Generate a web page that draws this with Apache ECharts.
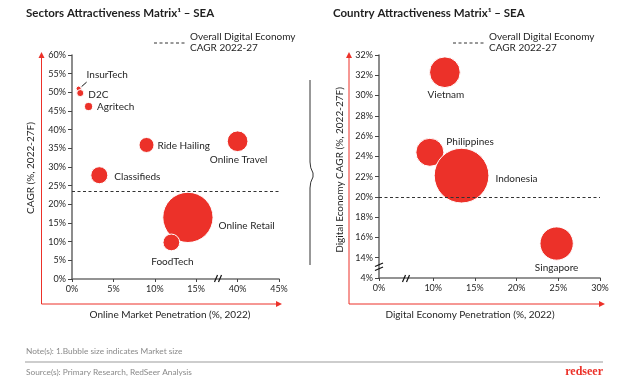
<!DOCTYPE html>
<html>
<head>
<meta charset="utf-8">
<script src="https://cdn.jsdelivr.net/npm/echarts@6/dist/echarts.min.js"></script>
<style>
html,body{margin:0;padding:0;background:#fff;}
#c{width:635px;height:384px;}
</style>
</head>
<body>
<div id="c"></div>
<script>
// ---------- Sectors chart data ----------
const sectorNames = ['InsurTech', 'D2C', 'Agritech', 'Ride Hailing', 'Online Travel', 'Classifieds', 'Online Retail', 'FoodTech'];
const sectorPenetration = [0.8, 1.0, 2.0, 9.0, 40.0, 3.3, 14.0, 12.0];          // % 2022
const sectorCagr = [51.0, 49.8, 46.2, 35.9, 36.9, 27.8, 16.5, 9.8];             // % 2022-27F
const sectorMarketSize = [1.0, 2.0, 2.6, 9.0, 17.1, 11.6, 101, 11.2];           // relative index
const sectorXTicks = [0, 5, 10, 15, 40, 45];
const sectorYTicks = [0, 5, 10, 15, 20, 25, 30, 35, 40, 45, 50, 55, 60];
const sectorOverallCagr = 23.5;

// ---------- Country chart data ----------
const countryNames = ['Vietnam', 'Philippines', 'Indonesia', 'Singapore'];
const countryPenetration = [11.4, 9.6, 13.4, 24.8];
const countryCagr = [32.3, 24.4, 22.1, 15.4];
const countryMarketSize = [31.5, 26.2, 100, 37.1];
const countryXTickLabels = ['0%', '10%', '15%', '20%', '25%', '30%'];
const countryYTickLabels = ['4%', '14%', '16%', '18%', '20%', '22%', '24%', '26%', '28%', '30%', '32%', '32%'];
const countryOverallCagr = 20;

// ---------- text ----------
const titleLeft = 'Sectors Attractiveness Matrix\u00b9 \u2013 SEA';
const titleRight = 'Country Attractiveness Matrix\u00b9 \u2013 SEA';
const legendLine1 = 'Overall Digital Economy';
const legendLine2 = 'CAGR 2022-27';
const noteText = 'Note(s): 1.Bubble size indicates Market size';
const sourceText = 'Source(s): Primary Research, RedSeer Analysis';

const RED = '#ec3129';
const FONT = 'Lato';
const TXT = '#1f1f1f';

// broken x axis of the sector chart: 15% jumps to 40%
const BREAK_GAP = 20;
const toSectorAxis = v => (v > 15 ? v - BREAK_GAP : v);
const fromSectorAxis = v => (v > 15 ? v + BREAK_GAP : v);
// broken axes of the country chart
const countryXMin = 3.5;   // displayed as 0%
const countryYMin = 12;    // displayed as 4%

const sectorLabelCfg = {
  'InsurTech':   { position: 'right', distance: 5, offset: [0, -14] },
  'D2C':         { position: 'right', distance: 4, offset: [0, 1.5] },
  'Agritech':    { position: 'right', distance: 4, offset: [0, 0] },
  'Ride Hailing':{ position: 'right', distance: 3, offset: [0, 1] },
  'Online Travel':{ position: 'bottom', distance: 3, offset: [1, 0] },
  'Classifieds': { position: 'right', distance: 6, offset: [0, 1.5] },
  'Online Retail':{ position: 'right', distance: 5, offset: [0, 8.5] },
  'FoodTech':    { position: 'bottom', distance: 6, offset: [1, 0] }
};
const countryLabelCfg = {
  'Vietnam':     { position: 'bottom', distance: 2, offset: [1, 0] },
  'Philippines': { position: 'right', distance: 2, offset: [0, -10.5] },
  'Indonesia':   { position: 'right', distance: 6, offset: [0, 3.5] },
  'Singapore':   { position: 'bottom', distance: 2, offset: [0, 0] }
};

const sectorData = sectorNames.map((n, i) => ({
  name: n,
  value: [toSectorAxis(sectorPenetration[i]), sectorCagr[i], sectorMarketSize[i]],
  label: sectorLabelCfg[n]
}));
const countryData = countryNames.map((n, i) => ({
  name: n,
  value: [countryPenetration[i], countryCagr[i], countryMarketSize[i]],
  label: countryLabelCfg[n]
}));

const axisLineStyle = { color: '#707070', width: 1.6 };
const tickStyle = { color: '#444', width: 1 };
const axisLabelStyle = { color: TXT, fontFamily: FONT, fontSize: 9 };

const chart = echarts.init(document.getElementById('c'), null, { renderer: 'canvas' });

const option = {
  animation: false,
  backgroundColor: '#fff',
  textStyle: { fontFamily: FONT },
  grid: [
    { left: 72, top: 55, width: 207, height: 224 },
    { left: 379, top: 55, width: 221, height: 223 }
  ],
  xAxis: [
    {
      gridIndex: 0, type: 'value', min: 0, max: 25, interval: 5,
      axisLine: { show: true, lineStyle: axisLineStyle },
      axisTick: { show: true, length: 3, lineStyle: tickStyle },
      splitLine: { show: false },
      axisLabel: Object.assign({ margin: 6, formatter: v => fromSectorAxis(v) + '%' }, axisLabelStyle)
    },
    {
      gridIndex: 1, type: 'value', min: countryXMin, max: 30,
      axisLine: { show: true, lineStyle: axisLineStyle },
      axisTick: { show: true, length: 3, lineStyle: tickStyle, customValues: [countryXMin, 10, 15, 20, 25, 30] },
      splitLine: { show: false },
      axisLabel: Object.assign({
        margin: 6,
        customValues: [countryXMin, 10, 15, 20, 25, 30],
        formatter: v => (v === countryXMin ? countryXTickLabels[0] : Math.round(v) + '%')
      }, axisLabelStyle)
    }
  ],
  yAxis: [
    {
      gridIndex: 0, type: 'value', min: 0, max: 60, interval: 5,
      axisLine: { show: true, lineStyle: axisLineStyle },
      axisTick: { show: true, length: 4, inside: false, lineStyle: tickStyle },
      splitLine: { show: false },
      axisLabel: Object.assign({ margin: 6, formatter: v => v + '%' }, axisLabelStyle)
    },
    {
      gridIndex: 1, type: 'value', min: countryYMin, max: 34, interval: 2,
      axisLine: { show: true, lineStyle: axisLineStyle },
      axisTick: { show: true, length: 4, lineStyle: tickStyle },
      splitLine: { show: false },
      axisLabel: Object.assign({
        margin: 6,
        formatter: v => countryYTickLabels[Math.round((v - countryYMin) / 2)]
      }, axisLabelStyle)
    }
  ],
  series: [
    {
      type: 'scatter', xAxisIndex: 0, yAxisIndex: 0,
      data: sectorData,
      symbolSize: v => 5 * Math.sqrt(v[2]),
      itemStyle: { color: RED, opacity: 1, borderColor: '#fff', borderWidth: 1 },
      label: { show: true, formatter: p => p.name, color: TXT, fontFamily: FONT, fontSize: 10 },
      emphasis: { disabled: true },
      markLine: {
        silent: true, symbol: 'none', label: { show: false },
        lineStyle: { color: '#333', type: [3, 2.5], width: 1 },
        data: [{ yAxis: sectorOverallCagr }]
      },
      z: 3
    },
    {
      type: 'scatter', xAxisIndex: 1, yAxisIndex: 1,
      data: countryData,
      symbolSize: v => 5.47 * Math.sqrt(v[2]),
      itemStyle: { color: RED, opacity: 1, borderColor: '#fff', borderWidth: 1 },
      label: { show: true, formatter: p => p.name, color: TXT, fontFamily: FONT, fontSize: 10 },
      emphasis: { disabled: true },
      markLine: {
        silent: true, symbol: 'none', label: { show: false },
        lineStyle: { color: '#333', type: [3, 2.5], width: 1 },
        data: [{ yAxis: countryOverallCagr }]
      },
      z: 3
    }
  ]
};
chart.setOption(option);

// ---------- decorations ----------
function arrowAxes(x0, yTop, yBottom, xRight) {
  return [
    { type: 'line', shape: { x1: x0, y1: yBottom, x2: x0, y2: yTop + 4 }, style: { stroke: RED, lineWidth: 1 } },
    { type: 'polygon', shape: { points: [[x0 - 3, yTop + 5], [x0 + 3, yTop + 5], [x0, yTop - 1]] }, style: { fill: RED } },
    { type: 'line', shape: { x1: x0, y1: yBottom, x2: xRight - 4, y2: yBottom }, style: { stroke: RED, lineWidth: 1 } },
    { type: 'polygon', shape: { points: [[xRight - 5, yBottom - 3], [xRight - 5, yBottom + 3], [xRight + 1, yBottom]] }, style: { fill: RED } }
  ];
}
function txt(x, y, text, opts, rot) {
  const el = {
    type: 'text', x: x, y: y,
    style: Object.assign({ text: text, fill: TXT, font: '10px ' + FONT, textAlign: 'left', textVerticalAlign: 'middle' }, opts || {})
  };
  if (rot) el.rotation = rot;
  return el;
}
function slash(x, y) {
  return [
    { type: 'line', shape: { x1: x - 3.5, y1: y + 3.5, x2: x - 0.5, y2: y - 3.5 }, style: { stroke: '#111', lineWidth: 1.2 } },
    { type: 'line', shape: { x1: x + 0.5, y1: y + 3.5, x2: x + 3.5, y2: y - 3.5 }, style: { stroke: '#111', lineWidth: 1.2 } }
  ];
}
const braceStyle = { stroke: '#333', lineWidth: 1, fill: null };

const insur = chart.convertToPixel({ seriesIndex: 0 }, sectorData[0].value);

const graphics = [].concat(
  [
    txt(26, 13, titleLeft, { font: 'bold 11.5px ' + FONT }),
    txt(333, 13, titleRight, { font: 'bold 11.5px ' + FONT }),
    // legends
    { type: 'line', shape: { x1: 154, y1: 43, x2: 186, y2: 43 }, style: { stroke: '#333', lineWidth: 1, lineDash: [3, 2.5] } },
    txt(190, 36.5, legendLine1),
    txt(190, 48, legendLine2),
    { type: 'line', shape: { x1: 453, y1: 43, x2: 485, y2: 43 }, style: { stroke: '#333', lineWidth: 1, lineDash: [3, 2.5] } },
    txt(489, 36.5, legendLine1),
    txt(489, 48, legendLine2),
    // axis titles
    txt(31, 168, 'CAGR (%, 2022-27F)', { textAlign: 'center', font: '10px ' + FONT }, Math.PI / 2),
    txt(170, 315, 'Online Market Penetration (%, 2022)', { textAlign: 'center', font: '10px ' + FONT }),
    txt(340, 170, 'Digital Economy CAGR (%, 2022-27F)', { textAlign: 'center', font: '10px ' + FONT }, Math.PI / 2),
    txt(470, 315, 'Digital Economy Penetration (%, 2022)', { textAlign: 'center', font: '10px ' + FONT }),
    // brace between charts
    { type: 'line', shape: { x1: 310, y1: 80, x2: 310, y2: 162 }, style: braceStyle },
    { type: 'bezierCurve', shape: { x1: 310, y1: 162, cpx1: 310, cpy1: 168, x2: 313, y2: 173 }, style: braceStyle },
    { type: 'line', shape: { x1: 313, y1: 173, x2: 313, y2: 177 }, style: braceStyle },
    { type: 'bezierCurve', shape: { x1: 313, y1: 177, cpx1: 310, cpy1: 182, x2: 310, y2: 188 }, style: braceStyle },
    { type: 'line', shape: { x1: 310, y1: 188, x2: 310, y2: 265 }, style: braceStyle },
    // insurtech leader
    { type: 'line', shape: { x1: insur[0] + 3, y1: insur[1] - 2, x2: insur[0] + 8, y2: insur[1] - 6.5 }, style: { stroke: '#111', lineWidth: 1 } },
    // footer
    txt(26, 351, noteText, { fill: '#8a8a8a', font: '8.3px ' + FONT }),
    { type: 'line', shape: { x1: 25, y1: 362, x2: 603, y2: 362 }, style: { stroke: '#bdbdbd', lineWidth: 1.5 } },
    txt(26, 372, sourceText, { fill: '#8a8a8a', font: '8.3px ' + FONT }),
    txt(603, 372, 'redseer', { fill: RED, font: 'bold 12px "Liberation Serif"', textAlign: 'right' })
  ],
  arrowAxes(41.5, 53, 304, 281),
  arrowAxes(349, 53, 304, 604),
  slash(218, 278.5),
  slash(406, 278.5),
  [
    { type: 'line', shape: { x1: 375, y1: 266.5, x2: 383, y2: 263 }, style: { stroke: '#111', lineWidth: 1.2 } },
    { type: 'line', shape: { x1: 375, y1: 270.5, x2: 383, y2: 267 }, style: { stroke: '#111', lineWidth: 1.2 } }
  ]
);
chart.setOption({ graphic: graphics.map(g => Object.assign({ z: 100 }, g)) });
</script>
</body>
</html>
